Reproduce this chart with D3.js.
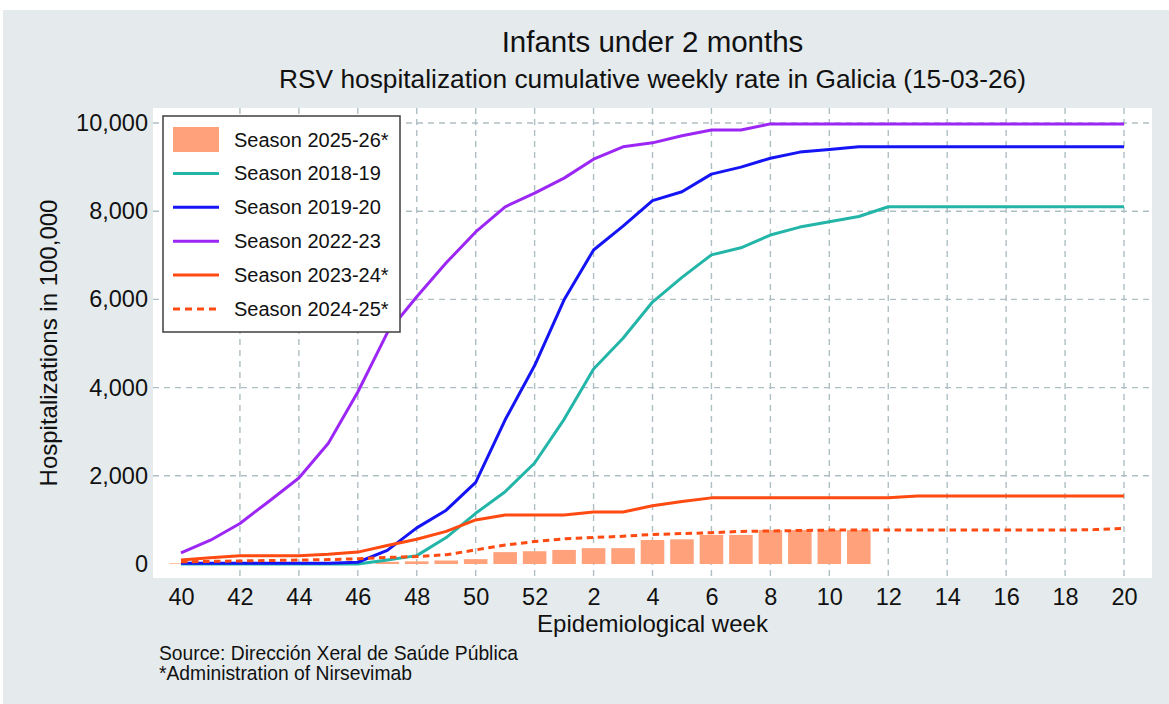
<!DOCTYPE html>
<html><head><meta charset="utf-8">
<script src="https://cdn.jsdelivr.net/npm/d3@7"></script>
<style>
html,body{margin:0;padding:0;background:#fff;}
svg{display:block;}
text{font-family:"Liberation Sans",Arial,Helvetica,sans-serif;fill:#111;}
</style>
</head><body>
<svg id="chart" width="1169" height="704"></svg>
<script>
// ---------------- data ----------------
const weeks = ["40","41","42","43","44","45","46","47","48","49","50","51","52",
  "1","2","3","4","5","6","7","8","9","10","11","12","13","14","15","16","17","18","19","20"];
const tickWeeks = ["40","42","44","46","48","50","52","2","4","6","8","10","12","14","16","18","20"];
const yTicks = [0, 2000, 4000, 6000, 8000, 10000];

const season2526 = [15,15,15,15,15,15,20,50,60,80,110,270,290,
  320,360,360,545,560,660,660,770,770,770,770,null,null,null,null,null,null,null,null,null];
const season1819 = [0,0,0,0,0,0,0,90,190,600,1150,1640,2290,
  3280,4420,5120,5940,6500,7010,7170,7460,7640,7760,7880,8100,8100,8100,8100,8100,8100,8100,8100,8100];
const season1920 = [20,20,20,20,20,20,40,310,820,1220,1850,3270,4500,
  5990,7120,7660,8240,8440,8840,9000,9200,9340,9400,9460,9460,9460,9460,9460,9460,9460,9460,9460,9460];
const season2223 = [250,540,920,1430,1950,2740,3900,5240,6060,6830,7530,8100,8410,
  8750,9180,9460,9550,9710,9840,9840,9980,9980,9980,9980,9980,9980,9980,9980,9980,9980,9980,9980,9980];
const season2324 = [90,140,190,190,190,220,270,420,560,740,1000,1110,1110,
  1110,1180,1180,1320,1420,1500,1500,1500,1500,1500,1500,1500,1540,1540,1540,1540,1540,1540,1540,1540];
const season2425 = [50,60,70,80,90,100,120,150,170,210,320,430,510,
  570,600,630,670,690,710,740,750,760,770,770,770,770,770,770,770,770,770,780,810];

const legendNames = ["Season 2025-26*","Season 2018-19","Season 2019-20","Season 2022-23","Season 2023-24*","Season 2024-25*"];

// ---------------- drawing ----------------
const svg = d3.select("#chart");
const C = {bg:"#e5ebed", grid:"#aebfc4", bar:"#ffa27c", teal:"#22b5a8", blue:"#1414f5", purple:"#9c27f5", orange:"#ff4a12"};

svg.append("rect").attr("x",3).attr("y",10).attr("width",1166).attr("height",694).attr("fill",C.bg);

const L = 153, R = 1152, T = 108, B = 578;
svg.append("rect").attr("x",L).attr("y",T).attr("width",R-L).attr("height",B-T).attr("fill","#fff");

const x = d3.scalePoint().domain(weeks).range([L, R]).padding(0.95);
const y = d3.scaleLinear().domain([-317, 10340]).range([B, T]);

// gridlines
const grid = svg.append("g");
grid.selectAll("line.v").data(tickWeeks.slice(1)).join("line")
  .attr("x1", d => x(d)).attr("x2", d => x(d)).attr("y1", T).attr("y2", B)
  .attr("stroke", C.grid).attr("stroke-width", 1.4).attr("stroke-dasharray", "6,5");
grid.selectAll("line.h").data(yTicks.slice(1)).join("line")
  .attr("x1", L).attr("x2", R).attr("y1", d => y(d)).attr("y2", d => y(d))
  .attr("stroke", C.grid).attr("stroke-width", 1.4).attr("stroke-dasharray", "6,5");

// axes
const xg = svg.append("g").attr("transform", `translate(0,${B})`)
  .call(d3.axisBottom(x).tickValues(tickWeeks).tickSize(0).tickPadding(10.5));
const yg = svg.append("g").attr("transform", `translate(${L},0)`)
  .call(d3.axisLeft(y).tickValues(yTicks).tickFormat(d3.format(",")).tickSize(0).tickPadding(5));
[xg, yg].forEach(g => {
  g.select(".domain").remove();
  g.selectAll("text").attr("font-size", 23.5).attr("fill", "#111")
    .attr("font-family", '"Liberation Sans",Arial,sans-serif');
});

// bars
const bw = x.step() * 0.8;
svg.append("g").selectAll("rect").data(weeks.map((w, i) => ({w, v: season2526[i]})).filter(d => d.v != null))
  .join("rect")
  .attr("x", d => x(d.w) - bw / 2).attr("width", bw)
  .attr("y", d => y(d.v)).attr("height", d => y(0) - y(d.v))
  .attr("fill", C.bar);

// lines
const line = d3.line().x((d, i) => x(weeks[i])).y(d => y(d));
const series = [
  {v: season1819, c: C.teal, dash: null},
  {v: season1920, c: C.blue, dash: null},
  {v: season2223, c: C.purple, dash: null},
  {v: season2324, c: C.orange, dash: null},
  {v: season2425, c: C.orange, dash: "6.5,4.5"}
];
svg.append("g").selectAll("path").data(series).join("path")
  .attr("d", d => line(d.v)).attr("fill", "none")
  .attr("stroke", d => d.c).attr("stroke-width", 3)
  .attr("stroke-linejoin", "round")
  .attr("stroke-dasharray", d => d.dash);

// legend
const lg = svg.append("g");
lg.append("rect").attr("x", 163).attr("y", 116).attr("width", 237).attr("height", 216)
  .attr("fill", "#fff").attr("stroke", "#4a4a4a").attr("stroke-width", 1.6);
const rowY = i => 139.5 + i * 33.9;
lg.append("rect").attr("x", 173).attr("y", rowY(0) - 12.5).attr("width", 46).attr("height", 25).attr("fill", C.bar);
series.forEach((s, i) => {
  lg.append("line").attr("x1", 173).attr("x2", 219).attr("y1", rowY(i + 1)).attr("y2", rowY(i + 1))
    .attr("stroke", s.c).attr("stroke-width", 3).attr("stroke-dasharray", s.dash ? "7,5" : null);
});
lg.selectAll("text").data(legendNames).join("text")
  .attr("x", 234).attr("y", (d, i) => rowY(i) + 7).attr("font-size", 20).text(d => d);

// titles
svg.append("text").attr("x", 652.5).attr("y", 52).attr("text-anchor", "middle")
  .attr("font-size", 29.5).text("Infants under 2 months");
svg.append("text").attr("x", 652.5).attr("y", 88).attr("text-anchor", "middle")
  .attr("font-size", 26.3).text("RSV hospitalization cumulative weekly rate in Galicia (15-03-26)");
svg.append("text").attr("transform", "translate(57,343) rotate(-90)").attr("text-anchor", "middle")
  .attr("font-size", 24).text("Hospitalizations in 100,000");
svg.append("text").attr("x", 652.5).attr("y", 632).attr("text-anchor", "middle")
  .attr("font-size", 24).text("Epidemiological week");
svg.append("text").attr("x", 159).attr("y", 660).attr("font-size", 19.3).text("Source: Dirección Xeral de Saúde Pública");
svg.append("text").attr("x", 159).attr("y", 680).attr("font-size", 19.3).text("*Administration of Nirsevimab");
</script>
</body></html>
